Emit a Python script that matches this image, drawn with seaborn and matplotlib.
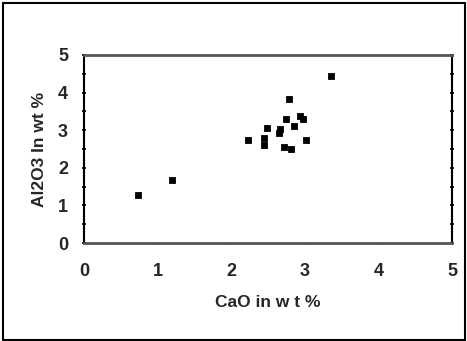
import seaborn as sns
import matplotlib.pyplot as plt
import pandas as pd
from matplotlib.patches import Rectangle

# CaO vs Al2O3 (wt %)
cao = [0.73, 1.19, 2.23, 2.45, 2.44, 2.48, 2.65, 2.66, 2.71, 2.75, 2.78, 2.81, 2.85, 2.93, 2.98, 3.02, 3.36]
al2o3 = [1.28, 1.68, 2.73, 2.80, 2.61, 3.05, 2.92, 3.02, 2.55, 3.30, 3.83, 2.51, 3.12, 3.38, 3.31, 2.74, 4.43]
ticks = [0, 1, 2, 3, 4, 5]

df = pd.DataFrame({'CaO': cao, 'Al2O3': al2o3})

sns.set_style('white')
plt.rcParams['font.family'] = ['Liberation Sans', 'DejaVu Sans']

fig = plt.figure(figsize=(4.67, 3.41), dpi=100)
ax = fig.add_axes([0.180, 0.287, 0.788, 0.552])

sns.scatterplot(data=df, x='CaO', y='Al2O3', marker='s', s=17, color='black',
                edgecolor='black', linewidth=0.6, ax=ax)

ax.set_xlim(0, 5)
ax.set_ylim(0, 5)
ax.set_xticks(ticks)
ax.set_yticks(ticks)
ax.set_yticks([0.5, 1.5, 2.5, 3.5, 4.5], minor=True)
ax.set_xticklabels(ticks, fontsize=13, fontweight='bold')
ax.set_yticklabels(ticks, fontsize=13, fontweight='bold')
ax.tick_params(axis='y', which='both', direction='inout', length=3, width=1.2,
               left=True, right=True, pad=10, color='black')
ax.tick_params(axis='x', which='both', direction='inout', length=2, width=0.8,
               bottom=True, top=True, pad=13, color='#888888')

ax.set_xlabel('CaO in w t %', fontsize=12.5, fontweight='bold', labelpad=11)
ax.set_ylabel('Al2O3 In wt %', fontsize=12.5, fontweight='bold', labelpad=8)

for side in ['top', 'bottom']:
    ax.spines[side].set_color('#555555')
    ax.spines[side].set_linewidth(2)
for side in ['left', 'right']:
    ax.spines[side].set_color('black')
    ax.spines[side].set_linewidth(1.5)

fig.patches.append(Rectangle((0.006, 0.004), 0.99, 0.988, transform=fig.transFigure,
                             fill=False, edgecolor='black', linewidth=1.5))

fig.savefig('out.png', dpi=100)
